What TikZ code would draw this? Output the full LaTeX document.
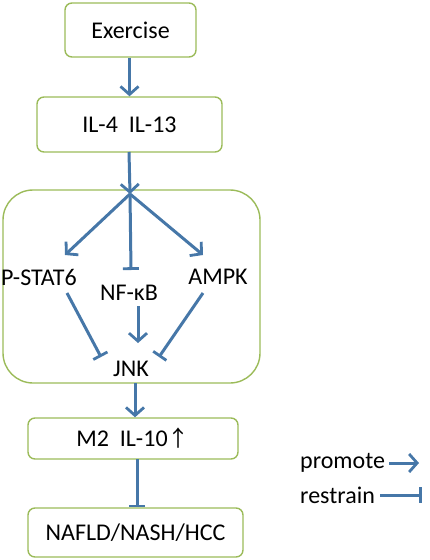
\documentclass[tikz,border=0pt]{standalone}
\usepackage{fontspec}
\setmainfont{Carlito}
\newfontfamily\cjkarrow{Noto Sans CJK SC}
\usetikzlibrary{arrows.meta}
\definecolor{boxgreen}{HTML}{9BBB59}
\definecolor{arrblue}{HTML}{4677A8}
\begin{document}
\begin{tikzpicture}[x=1pt,y=-1pt,
  box/.style={draw=boxgreen,line width=1.4pt,rounded corners=7pt,inner sep=0pt},
  lbl/.style={font=\fontsize{24}{27}\selectfont,inner sep=1pt},
  prom/.style={draw=arrblue,line width=3pt,-{Straight Barb[length=8pt,width=18pt,line width=2.8pt]}},
  rest/.style={draw=arrblue,line width=3pt,-{Bar[width=16pt,line width=2.8pt]}}]
\useasboundingbox (0,0) rectangle (430,560);
% boxes
\node[box,minimum width=131pt,minimum height=54pt] (ex) at (130.5,30) {};
\node[lbl] at (ex) {Exercise};
\node[box,minimum width=185pt,minimum height=55pt] (il) at (129.5,124.5) {};
\node[lbl] at (il) {IL-4\ \ IL-13};
\node[box,rounded corners=30pt,minimum width=257pt,minimum height=193pt] (big) at (131.5,286.5) {};
\node[box,minimum width=210pt,minimum height=41pt] (m2) at (133,438.5) {};
\node[lbl] at (m2) {M2\ \ IL-10{\cjkarrow\fontsize{22}{24}\selectfont ↑}};
\node[box,minimum width=215pt,minimum height=49pt] (na) at (135.5,532.5) {};
\node[lbl] at (na) {NAFLD/NASH/HCC};
% inner nodes
\coordinate (hub) at (130,194);
\node[lbl] (ps) at (39,277) {P-STAT6};
\node[lbl] (ampk) at (218,277) {AMPK};
\node[lbl] (nf) at (129,293) {NF-κB};
\node[lbl] (jnk) at (131,369) {JNK};
\coordinate (psT) at (65,255);
\coordinate (amT) at (203,255);
\coordinate (nfT) at (131,270);
% connectors
\draw[prom] (ex.south) ++(-1,0) coordinate (exb) -- (exb |- il.north);
\draw[prom] (129,152) coordinate (ilb) -- (hub);
\draw[prom] (hub) -- (psT);
\draw[prom] (hub) -- (amT);
\draw[rest] (hub) -- (nfT);
\draw[prom] (138,306) coordinate (nfb) -- (138,343) coordinate (jnkT);
\draw[rest] (67,293) coordinate (psb) -- (101,357) coordinate (psJ);
\draw[rest] (203,293) coordinate (amb) -- (159,357) coordinate (amJ);
\coordinate (bigb) at (135,383);
\draw[prom] (bigb) -- (bigb |- m2.north);
\coordinate (m2b) at (137,459);
\draw[rest] (m2b) -- (m2b |- na.north);
% legend
\node[lbl,anchor=west] (lp) at (299,463) {promote};
\node[lbl,anchor=west] (lr) at (299,495) {restrain};
\coordinate (lpE) at (419,463);
\coordinate (lrE) at (422,495);
\draw[prom] (lp.east) ++(3,0) coordinate (lpS) -- (lpE);
\draw[rest] (lr.east) ++(4,0) coordinate (lrS) -- (lrE);
\end{tikzpicture}
\end{document}
